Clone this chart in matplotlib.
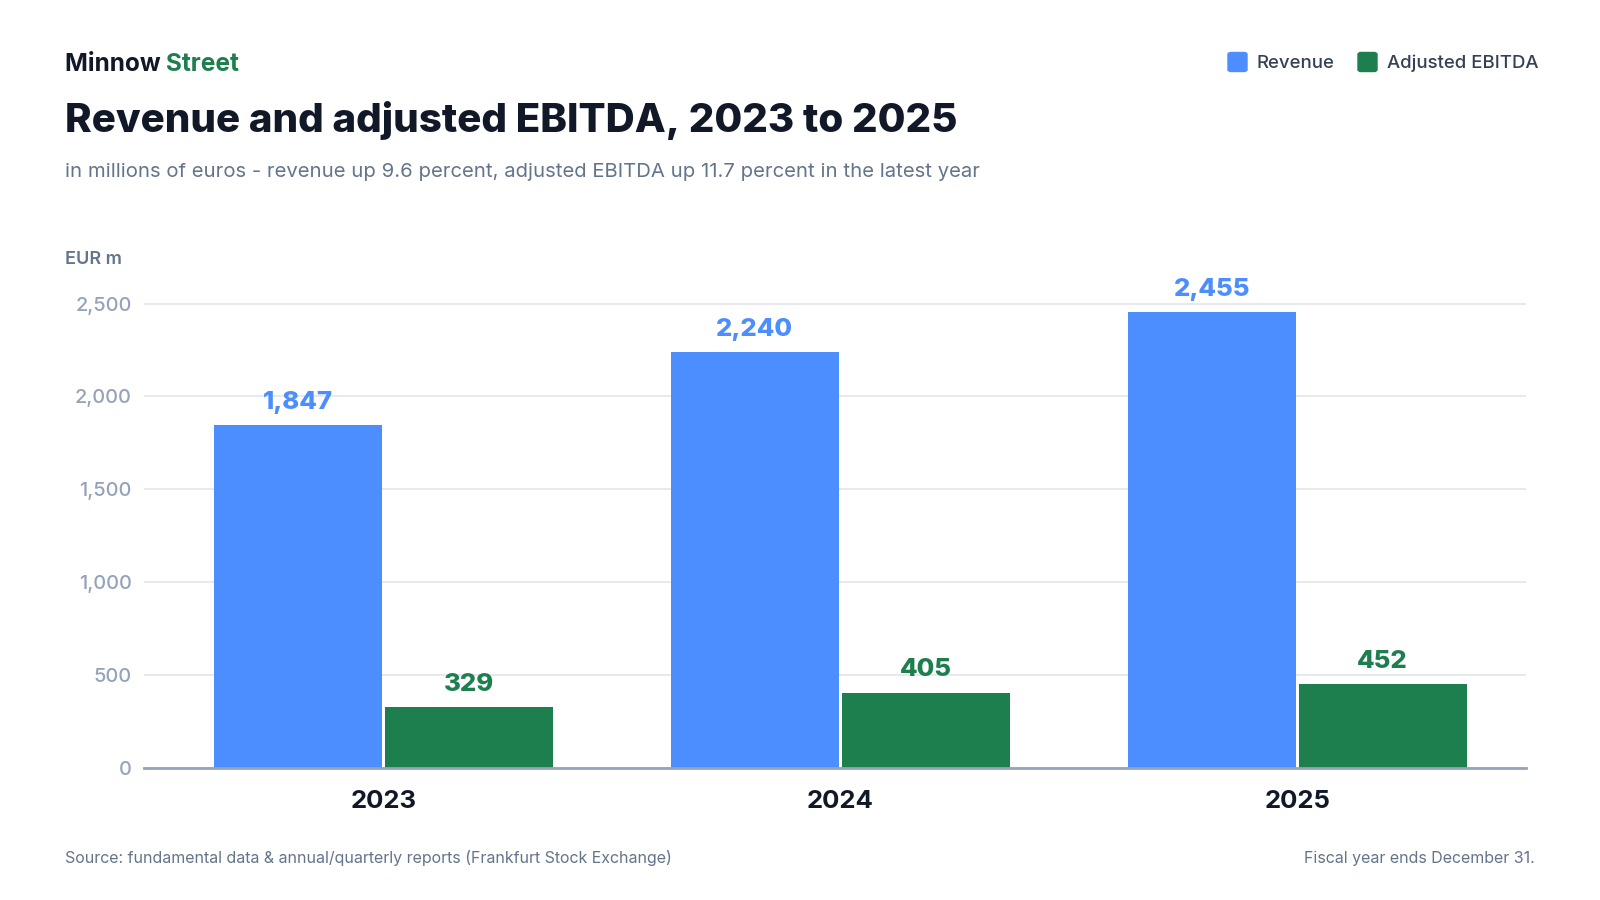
import numpy as np
import matplotlib.pyplot as plt
from matplotlib.patches import FancyBboxPatch

plt.rcParams['font.family'] = ['Inter', 'DejaVu Sans']

years = ['2023', '2024', '2025']
revenue = [1847, 2240, 2455]
ebitda = [329, 405, 452]

blue = '#4D8EFE'
green = '#1E7F4E'
dark = '#111827'
slate = '#64748B'
light = '#94A3B8'

fig = plt.figure(figsize=(16, 9), dpi=100)
ax = fig.add_axes([0.0902, 0.147, 0.8634, 0.5259])

x = np.arange(len(years))
w = 0.367
off = 0.187
b1 = ax.bar(x - off, revenue, w, color=blue, zorder=3)
b2 = ax.bar(x + off, ebitda, w, color=green, zorder=3)

for rect, v in zip(b1, revenue):
    ax.annotate(f'{v:,}', (rect.get_x() + rect.get_width() / 2, v),
                xytext=(0, 8), textcoords='offset points', ha='center', va='bottom',
                fontsize=18.5, fontweight=800, color=blue, clip_on=False)
for rect, v in zip(b2, ebitda):
    ax.annotate(f'{v:,}', (rect.get_x() + rect.get_width() / 2, v),
                xytext=(0, 8), textcoords='offset points', ha='center', va='bottom',
                fontsize=18.5, fontweight=800, color=green, clip_on=False)

ax.set_xlim(-0.523, 2.5)
ax.set_ylim(0, 2550)
ticks = [0, 500, 1000, 1500, 2000, 2500]
ax.set_yticks(ticks)
ax.set_yticklabels([f'{t:,}' for t in ticks])
ax.set_xticks(x)
ax.set_xticklabels(years)
ax.tick_params(axis='y', length=0, pad=9, labelsize=14.4, labelcolor=light)
ax.tick_params(axis='x', length=0, pad=16, labelsize=18.5, labelcolor=dark)
for lab in ax.get_yticklabels():
    lab.set_fontweight('medium')
for lab in ax.get_xticklabels():
    lab.set_fontweight('bold')

ax.grid(axis='y', color='#E5E7EB', linewidth=1.3, zorder=0)
for s in ['top', 'right', 'left']:
    ax.spines[s].set_visible(False)
ax.spines['bottom'].set_color(light)
ax.spines['bottom'].set_linewidth(2)
ax.spines['bottom'].set_zorder(4)

# header
t1 = fig.text(65 / 1600, 1 - 64.5 / 900, 'Minnow ', fontsize=17.6, fontweight='bold',
              color=dark, va='center', ha='left')
fig.canvas.draw()
bb = t1.get_window_extent()
fig.text(bb.x1 / 1600, 1 - 64.5 / 900, 'Street', fontsize=17.6, fontweight='bold',
         color=green, va='center', ha='left')
fig.text(65 / 1600, 1 - 132 / 900, 'Revenue and adjusted EBITDA, 2023 to 2025',
         fontsize=29.0, fontweight=800, color=dark, va='baseline', ha='left')
fig.text(65 / 1600, 1 - 177 / 900,
         'in millions of euros - revenue up 9.6 percent, adjusted EBITDA up 11.7 percent in the latest year',
         fontsize=14.6, color=slate, va='baseline', ha='left')
fig.text(65 / 1600, 1 - 264 / 900, 'EUR m', fontsize=13, fontweight='semibold',
         color=slate, va='baseline', ha='left')

# legend
for sx, tx, lab, col in [(1228, 1257, 'Revenue', blue), (1358, 1387, 'Adjusted EBITDA', green)]:
    fig.patches.append(FancyBboxPatch((sx / 1600, 1 - 71.5 / 900), 19 / 1600, 19 / 900,
                                      boxstyle='round,pad=0,rounding_size=0.002',
                                      transform=fig.transFigure, color=col, figure=fig))
    fig.text(tx / 1600, 1 - 63 / 900, lab, fontsize=13.4, fontweight='medium',
             color='#334155', va='center', ha='left')

# footer
fig.text(65 / 1600, 1 - 858 / 900,
         'Source: fundamental data & annual/quarterly reports (Frankfurt Stock Exchange)',
         fontsize=11.5, color=slate, va='center', ha='left')
fig.text(1535 / 1600, 1 - 858 / 900, 'Fiscal year ends December 31.',
         fontsize=11.5, color=slate, va='center', ha='right')

fig.savefig('out.png', dpi=100, facecolor='white')
